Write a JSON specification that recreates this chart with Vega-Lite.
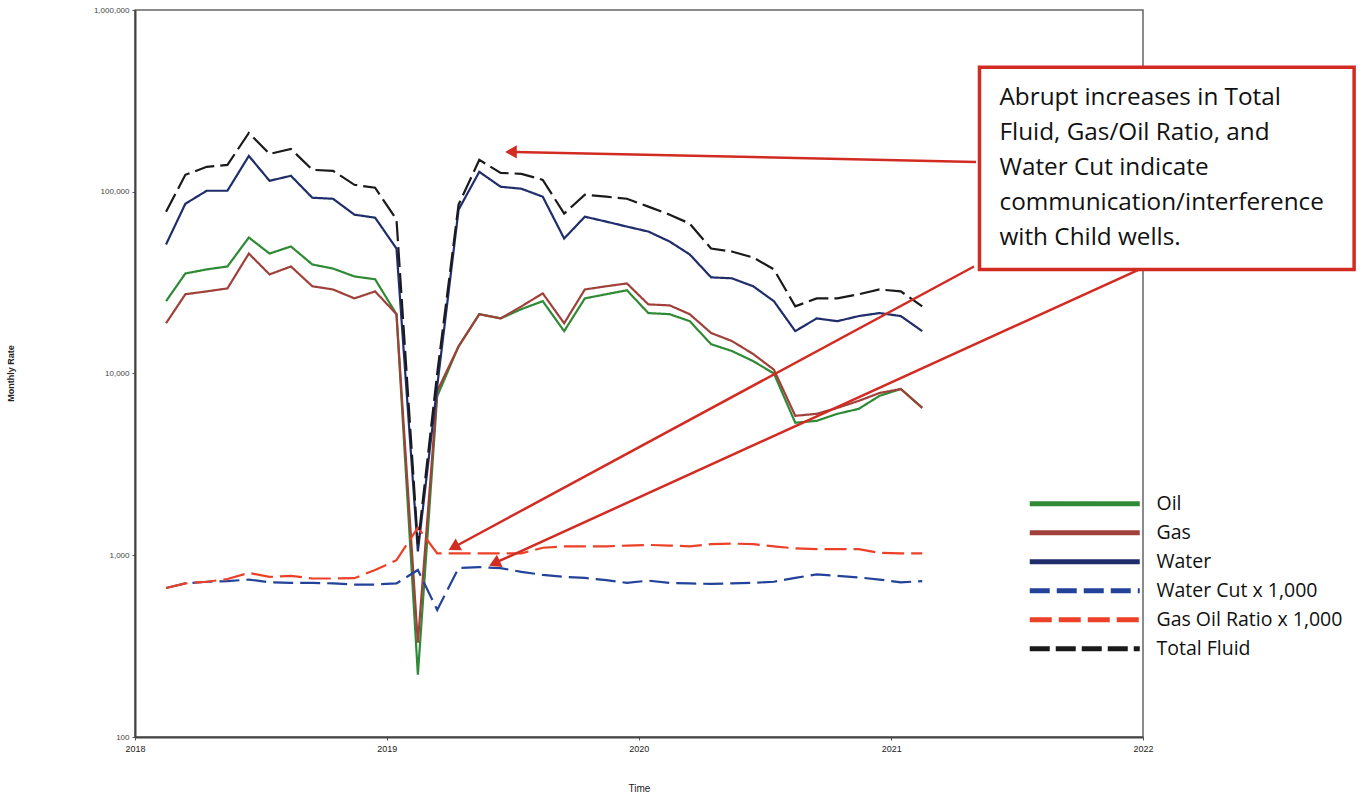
{
  "$schema": "https://vega.github.io/schema/vega-lite/v6.json",
  "width": 1008,
  "height": 727,
  "autosize": {"type": "none"},
  "padding": {"left": 135, "top": 10, "right": 226, "bottom": 61},
  "background": "white",
  "config": {
    "view": {"stroke": "#666", "strokeWidth": 1.5},
    "legend": {
      "orient": "none", "legendX": 880, "legendY": 484, "direction": "vertical",
      "symbolType": "M-10,0H10", "symbolSize": 121, "symbolStrokeWidth": 5,
      "labelFont": "Open Sans", "labelFontSize": 19.5, "labelColor": "#111", "labelLimit": 300,
      "rowPadding": 8, "symbolOffset": 60, "labelOffset": 62, "padding": 0
    }
  },
  "layer": [
    {
      "data": {"values": [
        {"date": "2018-02-15", "Oil": 25000, "Gas": 18900, "Water": 51300, "Water Cut x 1,000": 660, "Gas Oil Ratio x 1,000": 660, "Total Fluid": 77700},
        {"date": "2018-03-15", "Oil": 35500, "Gas": 27300, "Water": 85900, "Water Cut x 1,000": 700, "Gas Oil Ratio x 1,000": 700, "Total Fluid": 123900},
        {"date": "2018-04-15", "Oil": 37400, "Gas": 28300, "Water": 101300, "Water Cut x 1,000": 715, "Gas Oil Ratio x 1,000": 715, "Total Fluid": 137100},
        {"date": "2018-05-15", "Oil": 38800, "Gas": 29400, "Water": 101300, "Water Cut x 1,000": 720, "Gas Oil Ratio x 1,000": 740, "Total Fluid": 140600},
        {"date": "2018-06-15", "Oil": 56000, "Gas": 45700, "Water": 157500, "Water Cut x 1,000": 735, "Gas Oil Ratio x 1,000": 800, "Total Fluid": 210500},
        {"date": "2018-07-15", "Oil": 45700, "Gas": 35100, "Water": 114900, "Water Cut x 1,000": 710, "Gas Oil Ratio x 1,000": 760, "Total Fluid": 161500},
        {"date": "2018-08-15", "Oil": 50000, "Gas": 38800, "Water": 122400, "Water Cut x 1,000": 705, "Gas Oil Ratio x 1,000": 770, "Total Fluid": 172000},
        {"date": "2018-09-15", "Oil": 39800, "Gas": 30200, "Water": 92700, "Water Cut x 1,000": 705, "Gas Oil Ratio x 1,000": 745, "Total Fluid": 132000},
        {"date": "2018-10-15", "Oil": 37800, "Gas": 29000, "Water": 91500, "Water Cut x 1,000": 700, "Gas Oil Ratio x 1,000": 745, "Total Fluid": 130300},
        {"date": "2018-11-15", "Oil": 34200, "Gas": 25900, "Water": 74800, "Water Cut x 1,000": 690, "Gas Oil Ratio x 1,000": 748, "Total Fluid": 109200},
        {"date": "2018-12-15", "Oil": 33000, "Gas": 28300, "Water": 72000, "Water Cut x 1,000": 690, "Gas Oil Ratio x 1,000": 830, "Total Fluid": 105200},
        {"date": "2019-01-15", "Oil": 21200, "Gas": 21200, "Water": 48700, "Water Cut x 1,000": 700, "Gas Oil Ratio x 1,000": 940, "Total Fluid": 70300},
        {"date": "2019-02-15", "Oil": 220, "Gas": 330, "Water": 1050, "Water Cut x 1,000": 830, "Gas Oil Ratio x 1,000": 1420, "Total Fluid": 1150},
        {"date": "2019-03-15", "Oil": 7500, "Gas": 8000, "Water": 8500, "Water Cut x 1,000": 500, "Gas Oil Ratio x 1,000": 1025, "Total Fluid": 10000},
        {"date": "2019-04-15", "Oil": 14100, "Gas": 14100, "Water": 79700, "Water Cut x 1,000": 850, "Gas Oil Ratio x 1,000": 1025, "Total Fluid": 84900},
        {"date": "2019-05-15", "Oil": 21200, "Gas": 21200, "Water": 128700, "Water Cut x 1,000": 860, "Gas Oil Ratio x 1,000": 1025, "Total Fluid": 149700},
        {"date": "2019-06-15", "Oil": 20100, "Gas": 20100, "Water": 106500, "Water Cut x 1,000": 850, "Gas Oil Ratio x 1,000": 1025, "Total Fluid": 127000},
        {"date": "2019-07-15", "Oil": 22600, "Gas": 23400, "Water": 103900, "Water Cut x 1,000": 810, "Gas Oil Ratio x 1,000": 1025, "Total Fluid": 125500},
        {"date": "2019-08-15", "Oil": 25000, "Gas": 27600, "Water": 93900, "Water Cut x 1,000": 780, "Gas Oil Ratio x 1,000": 1100, "Total Fluid": 116300},
        {"date": "2019-09-15", "Oil": 17100, "Gas": 18900, "Water": 55300, "Water Cut x 1,000": 760, "Gas Oil Ratio x 1,000": 1120, "Total Fluid": 75800},
        {"date": "2019-10-15", "Oil": 25900, "Gas": 29000, "Water": 72900, "Water Cut x 1,000": 750, "Gas Oil Ratio x 1,000": 1120, "Total Fluid": 96300},
        {"date": "2019-11-15", "Oil": 27300, "Gas": 30200, "Water": 68500, "Water Cut x 1,000": 730, "Gas Oil Ratio x 1,000": 1120, "Total Fluid": 93900},
        {"date": "2019-12-15", "Oil": 28700, "Gas": 31300, "Water": 64300, "Water Cut x 1,000": 705, "Gas Oil Ratio x 1,000": 1130, "Total Fluid": 91500},
        {"date": "2020-01-15", "Oil": 21500, "Gas": 24000, "Water": 60400, "Water Cut x 1,000": 725, "Gas Oil Ratio x 1,000": 1140, "Total Fluid": 82800},
        {"date": "2020-02-15", "Oil": 21200, "Gas": 23700, "Water": 53200, "Water Cut x 1,000": 705, "Gas Oil Ratio x 1,000": 1130, "Total Fluid": 74800},
        {"date": "2020-03-15", "Oil": 19400, "Gas": 21200, "Water": 45200, "Water Cut x 1,000": 700, "Gas Oil Ratio x 1,000": 1120, "Total Fluid": 66800},
        {"date": "2020-04-15", "Oil": 14500, "Gas": 16700, "Water": 33800, "Water Cut x 1,000": 695, "Gas Oil Ratio x 1,000": 1150, "Total Fluid": 48700},
        {"date": "2020-05-15", "Oil": 13300, "Gas": 15100, "Water": 33400, "Water Cut x 1,000": 700, "Gas Oil Ratio x 1,000": 1160, "Total Fluid": 46900},
        {"date": "2020-06-15", "Oil": 11700, "Gas": 12800, "Water": 30200, "Water Cut x 1,000": 705, "Gas Oil Ratio x 1,000": 1150, "Total Fluid": 43500},
        {"date": "2020-07-15", "Oil": 10000, "Gas": 10500, "Water": 25000, "Water Cut x 1,000": 715, "Gas Oil Ratio x 1,000": 1120, "Total Fluid": 37400},
        {"date": "2020-08-15", "Oil": 5360, "Gas": 5850, "Water": 17100, "Water Cut x 1,000": 750, "Gas Oil Ratio x 1,000": 1090, "Total Fluid": 23400},
        {"date": "2020-09-15", "Oil": 5490, "Gas": 6000, "Water": 20100, "Water Cut x 1,000": 785, "Gas Oil Ratio x 1,000": 1080, "Total Fluid": 25900},
        {"date": "2020-10-15", "Oil": 6000, "Gas": 6470, "Water": 19400, "Water Cut x 1,000": 770, "Gas Oil Ratio x 1,000": 1080, "Total Fluid": 25900},
        {"date": "2020-11-15", "Oil": 6390, "Gas": 7070, "Water": 20700, "Water Cut x 1,000": 755, "Gas Oil Ratio x 1,000": 1080, "Total Fluid": 27300},
        {"date": "2020-12-15", "Oil": 7530, "Gas": 7810, "Water": 21500, "Water Cut x 1,000": 735, "Gas Oil Ratio x 1,000": 1030, "Total Fluid": 29000},
        {"date": "2021-01-15", "Oil": 8220, "Gas": 8220, "Water": 20700, "Water Cut x 1,000": 710, "Gas Oil Ratio x 1,000": 1025, "Total Fluid": 28300},
        {"date": "2021-02-15", "Oil": 6470, "Gas": 6470, "Water": 17100, "Water Cut x 1,000": 720, "Gas Oil Ratio x 1,000": 1025, "Total Fluid": 23400}
      ]},
      "transform": [
        {"fold": ["Oil", "Gas", "Water", "Water Cut x 1,000", "Gas Oil Ratio x 1,000", "Total Fluid"], "as": ["series", "value"]}
      ],
      "mark": {"type": "line", "strokeWidth": 2.2},
      "encoding": {
        "x": {
          "field": "date", "type": "temporal",
          "scale": {"type": "utc", "domain": [{"year": 2018, "month": 1, "date": 1, "utc": true}, {"year": 2022, "month": 1, "date": 1, "utc": true}]},
          "axis": {
            "values": [{"year": 2018, "month": 1, "date": 1, "utc": true}, {"year": 2019, "month": 1, "date": 1, "utc": true}, {"year": 2020, "month": 1, "date": 1, "utc": true}, {"year": 2021, "month": 1, "date": 1, "utc": true}, {"year": 2022, "month": 1, "date": 1, "utc": true}],
            "format": "%Y", "labelFlush": false, "grid": false,
            "labelFont": "Liberation Sans", "labelFontSize": 9, "labelColor": "#222", "labelPadding": 4,
            "tickSize": 3, "tickColor": "#555", "domainColor": "#444", "domainWidth": 2,
            "title": "Time", "titleFont": "Liberation Sans", "titleFontSize": 10, "titleFontWeight": "normal", "titleColor": "#222", "titleY": 46
          }
        },
        "y": {
          "field": "value", "type": "quantitative",
          "scale": {"type": "log", "domain": [100, 1000000]},
          "axis": {
            "values": [100, 1000, 10000, 100000, 1000000], "format": ",", "grid": false,
            "labelFont": "Liberation Sans", "labelFontSize": 8, "labelColor": "#444", "labelPadding": 3,
            "tickSize": 3, "tickColor": "#555", "domainColor": "#444", "domainWidth": 2,
            "title": "Monthly Rate", "titleFont": "Liberation Sans", "titleFontSize": 9, "titleFontWeight": "bold", "titleColor": "#222",
            "titleX": -120, "titleY": 363, "titleAngle": -90
          }
        },
        "color": {
          "field": "series", "type": "nominal", "title": null,
          "scale": {
            "domain": ["Oil", "Gas", "Water", "Water Cut x 1,000", "Gas Oil Ratio x 1,000", "Total Fluid"],
            "range": ["#2f8a35", "#a0403a", "#1f2d6b", "#23439a", "#ec4128", "#1a1a1a"]
          },
          "legend": {
            "encode": {"symbols": {"update": {"strokeDash": {"signal": "(datum.value == 'Water Cut x 1,000' || datum.value == 'Gas Oil Ratio x 1,000' || datum.value == 'Total Fluid') ? [44, 14] : [1, 0]"}}}}
          }
        },
        "strokeDash": {
          "field": "series", "type": "nominal", "title": null,
          "scale": {
            "domain": ["Oil", "Gas", "Water", "Water Cut x 1,000", "Gas Oil Ratio x 1,000", "Total Fluid"],
            "range": [[1, 0], [1, 0], [1, 0], [20, 7], [22, 7], [20, 6]]
          },
          "legend": {
            "encode": {"symbols": {"update": {"strokeDash": {"signal": "(datum.value == 'Water Cut x 1,000' || datum.value == 'Gas Oil Ratio x 1,000' || datum.value == 'Total Fluid') ? [44, 14] : [1, 0]"}}}}
          }
        }
      }
    },
    {
      "data": {"values": [{}]},
      "mark": {"type": "rect", "fill": "white", "stroke": "#d22b22", "strokeWidth": 3.5},
      "encoding": {
        "x": {"datum": {"year": 2021, "month": 5, "date": 9, "utc": true}, "type": "temporal"},
        "x2": {"datum": {"year": 2022, "month": 11, "date": 3, "utc": true}},
        "y": {"datum": 484000, "type": "quantitative"},
        "y2": {"datum": 37400}
      }
    },
    {
      "data": {"values": [{}]},
      "mark": {"type": "text", "align": "left", "baseline": "alphabetic", "font": "Open Sans", "fontSize": 24.3, "lineHeight": 35, "color": "#111",
        "text": ["Abrupt increases in Total", "Fluid, Gas/Oil Ratio, and", "Water Cut indicate", "communication/interference", "with Child wells."]},
      "encoding": {
        "x": {"datum": {"year": 2021, "month": 6, "date": 7, "utc": true}, "type": "temporal"},
        "y": {"datum": 299800, "type": "quantitative"}
      }
    },
    {
      "data": {"values": [{}]},
      "mark": {"type": "rule", "color": "#d22b22", "strokeWidth": 2.5},
      "encoding": {
        "x": {"datum": {"year": 2021, "month": 5, "date": 4, "utc": true}, "type": "temporal"},
        "x2": {"datum": {"year": 2019, "month": 7, "date": 5, "utc": true}},
        "y": {"datum": 146000, "type": "quantitative"},
        "y2": {"datum": 165700}
      }
    },
    {
      "data": {"values": [{}]},
      "mark": {"type": "rule", "color": "#d22b22", "strokeWidth": 2.5},
      "encoding": {
        "x": {"datum": {"year": 2021, "month": 5, "date": 1, "utc": true}, "type": "temporal"},
        "x2": {"datum": {"year": 2019, "month": 4, "date": 8, "utc": true}},
        "y": {"datum": 38800, "type": "quantitative"},
        "y2": {"datum": 1107}
      }
    },
    {
      "data": {"values": [{}]},
      "mark": {"type": "rule", "color": "#d22b22", "strokeWidth": 2.5},
      "encoding": {
        "x": {"datum": {"year": 2021, "month": 12, "date": 27, "utc": true}, "type": "temporal"},
        "x2": {"datum": {"year": 2019, "month": 6, "date": 6, "utc": true}},
        "y": {"datum": 37400, "type": "quantitative"},
        "y2": {"datum": 904}
      }
    },
    {
      "data": {"values": [{}]},
      "mark": {"type": "point", "shape": "triangle-left", "filled": true, "color": "#d22b22", "size": 180, "opacity": 1},
      "encoding": {
        "x": {"datum": {"year": 2019, "month": 6, "date": 30, "utc": true}, "type": "temporal"},
        "y": {"datum": 165700, "type": "quantitative"}
      }
    },
    {
      "data": {"values": [{}]},
      "mark": {"type": "point", "shape": "triangle-up", "filled": true, "color": "#d22b22", "size": 180, "opacity": 1, "angle": 241.6},
      "encoding": {
        "x": {"datum": {"year": 2019, "month": 4, "date": 8, "utc": true}, "type": "temporal"},
        "y": {"datum": 1107, "type": "quantitative"}
      }
    },
    {
      "data": {"values": [{}]},
      "mark": {"type": "point", "shape": "triangle-up", "filled": true, "color": "#d22b22", "size": 180, "opacity": 1, "angle": 245.4},
      "encoding": {
        "x": {"datum": {"year": 2019, "month": 6, "date": 6, "utc": true}, "type": "temporal"},
        "y": {"datum": 904, "type": "quantitative"}
      }
    }
  ]
}
